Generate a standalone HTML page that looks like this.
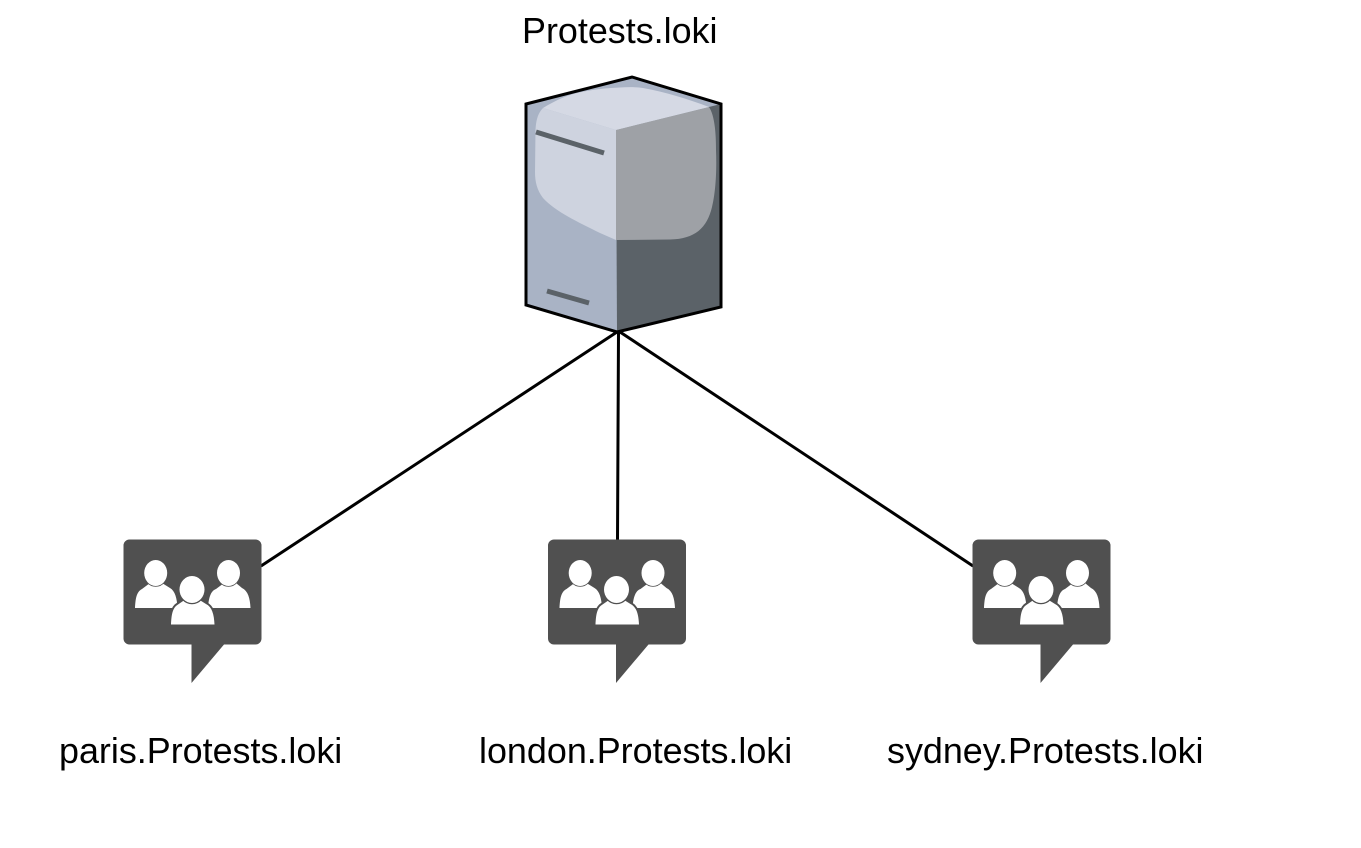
<!DOCTYPE html>
<html>
<head>
<meta charset="utf-8">
<style>
html,body{margin:0;padding:0;background:#fff;width:1361px;height:848px;overflow:hidden}
svg{display:block}
text{font-family:"Liberation Sans",Arial,sans-serif;font-size:35.9px;fill:#000}
</style>
</head>
<body>
<svg width="1361" height="848" viewBox="0 0 1361 848" xmlns="http://www.w3.org/2000/svg">
<defs>
<g id="group">
  <path d="M130 539.5H255.5a6 6 0 0 1 6 6V638.5a6 6 0 0 1-6 6H224L191.5 683V644.5H129.5a6 6 0 0 1-6-6V545.5a6 6 0 0 1 6-6Z" fill="#505050"/>
  <g fill="#fff">
    <path d="M135 608C135.500 600 136 592 142 589L150 583H162L170 588C175 591 177 598 177.500 608Z"/>
    <path d="M208 608C208.500 600 210 591 216 589L224 583H236L242 588C248 591 250 598 250.500 608Z"/>
    <g stroke="#505050" stroke-width="1.500" paint-order="stroke">
      <ellipse cx="155.700" cy="573" rx="11.500" ry="13"/>
      <ellipse cx="228.500" cy="573" rx="11.500" ry="13"/>
    </g>
    <path d="M171 624.500C171.500 616 172 608 178 604.500L186 599H198L206 604C212 607 214 614 214.500 624.500Z" stroke="#505050" stroke-width="4" paint-order="stroke"/>
    <ellipse cx="192" cy="589.500" rx="12.500" ry="13.500" stroke="#505050" stroke-width="2.500" paint-order="stroke"/>
  </g>
</g>
</defs>

<path d="M617 332L261 566M618.500 332L617.500 540M620 332L973 566" fill="none" stroke="#000" stroke-width="3"/>

<!-- server -->
<path d="M526 104L632 77L721 104V307L617 332L526 305Z" fill="#a9b3c5"/>
<path d="M616 130L721 104V307L617 332Z" fill="#5b6268"/>
<path d="M616 130V240L600 233C578 222 556 212 543 198C537 190 535 182 535 172L535.500 130C536 120 538 113 543 108L616 130Z" fill="#ced3df"/>
<path d="M616 130L709 107C713 113 716 125 716 150C717 175 715 195 712 207C707 228 695 239 670 239.500L616 240Z" fill="#9ea1a6"/>
<path d="M543 108C556 100 568 95 577 93C595 89 608 88 620 87.500C628 87 636 87 643 88C665 92 688 99 709 107L616 130Z" fill="#d5d9e4"/>
<path d="M536 132L604 153" stroke="#5b6268" stroke-width="5" fill="none"/>
<path d="M547 291L589 303" stroke="#5b6268" stroke-width="5" fill="none"/>
<path d="M526 104L632 77L721 104V307L617 332L526 305Z" fill="none" stroke="#000" stroke-width="3"/>

<use href="#group"/>
<use href="#group" x="424.500"/>
<use href="#group" x="849"/>

<text x="522" y="43">Protests.loki</text>
<text x="59" y="763">paris.Protests.loki</text>
<text x="479" y="763">london.Protests.loki</text>
<text x="887" y="763">sydney.Protests.loki</text>
</svg>
</body>
</html>
